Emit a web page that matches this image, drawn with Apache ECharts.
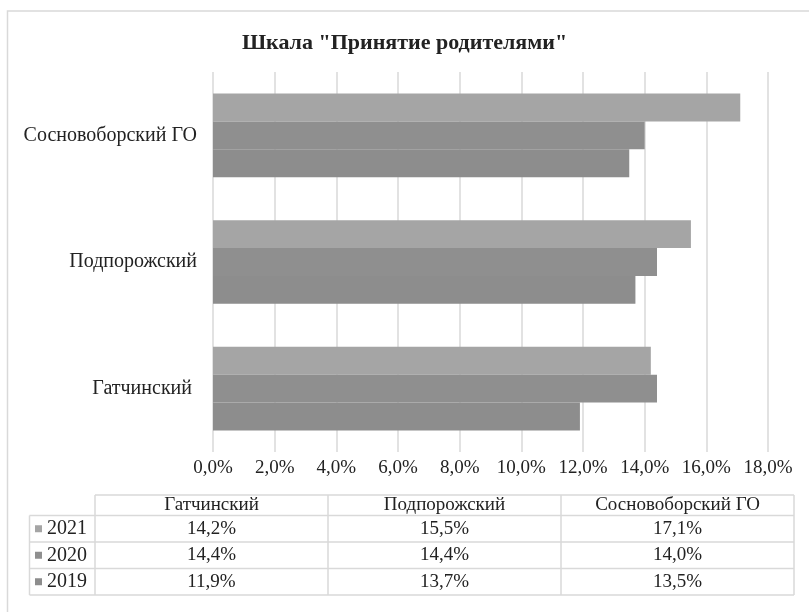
<!DOCTYPE html>
<html>
<head>
<meta charset="utf-8">
<style>
  html, body { margin: 0; padding: 0; background: #ffffff; }
  #chart { width: 809px; height: 612px; }
</style>
<script src="https://cdn.jsdelivr.net/npm/echarts@6/dist/echarts.min.js"></script>
</head>
<body>
<div id="chart"></div>
<script>
// Districts (bottom to top on the category axis)
const categories = ['Гатчинский ', 'Подпорожский', 'Сосновоборский ГО'];
// Share of respondents per year, in percent
const years = ['2021', '2020', '2019'];
const values2021 = [14.2, 15.5, 17.1];
const values2020 = [14.4, 14.4, 14.0];
const values2019 = [11.9, 13.7, 13.5];
const seriesValues = [values2021, values2020, values2019];
const seriesColors = ['#a5a5a5', '#8f8f8f', '#8d8d8d'];
const titleText = 'Шкала "Принятие родителями"';

const SERIF = '"Liberation Serif", "DejaVu Serif", serif';
const TEXT = '#222222';
const LINE = '#d9d9d9';

function pct(v) {
  return v.toFixed(1).replace('.', ',') + '%';
}

// Data table under the chart, built from the same arrays
const tableX = [29.5, 95, 328, 561, 794];
const tableY = [495, 515.5, 542, 568.5, 595];
const graphics = [];

// outer frame of the chart area
graphics.push({
  type: 'rect',
  shape: { x: 7.5, y: 11, width: 900, height: 700 },
  style: { fill: 'none', stroke: LINE, lineWidth: 1.5 },
  silent: true
});

function hline(x1, x2, y) {
  graphics.push({ type: 'line', shape: { x1: x1, y1: y, x2: x2, y2: y },
    style: { stroke: LINE, lineWidth: 1.5 }, silent: true });
}
function vline(x, y1, y2) {
  graphics.push({ type: 'line', shape: { x1: x, y1: y1, x2: x, y2: y2 },
    style: { stroke: LINE, lineWidth: 1.5 }, silent: true });
}

// horizontal rules
hline(tableX[1], tableX[4], tableY[0]);
for (let r = 1; r < tableY.length; r++) hline(tableX[0], tableX[4], tableY[r]);
// vertical rules
vline(tableX[0], tableY[1], tableY[4]);
for (let c = 1; c < tableX.length; c++) vline(tableX[c], tableY[0], tableY[4]);

// header row: district names
categories.forEach(function (name, i) {
  graphics.push({
    type: 'text',
    x: (tableX[i + 1] + tableX[i + 2]) / 2,
    y: (tableY[0] + tableY[1]) / 2,
    style: { text: name.trim(), font: '19px ' + SERIF, fill: TEXT,
      align: 'center', verticalAlign: 'middle' },
    silent: true
  });
});

// body rows: legend key, year and values
years.forEach(function (year, r) {
  const cy = (tableY[r + 1] + tableY[r + 2]) / 2;
  graphics.push({
    type: 'rect',
    shape: { x: 35, y: cy - 3.5, width: 7, height: 7 },
    style: { fill: seriesColors[r] },
    silent: true
  });
  graphics.push({
    type: 'text', x: 47, y: cy,
    style: { text: year, font: '20px ' + SERIF, fill: TEXT,
      align: 'left', verticalAlign: 'middle' },
    silent: true
  });
  seriesValues[r].forEach(function (v, i) {
    graphics.push({
      type: 'text',
      x: (tableX[i + 1] + tableX[i + 2]) / 2,
      y: cy,
      style: { text: pct(v), font: '19px ' + SERIF, fill: TEXT,
        align: 'center', verticalAlign: 'middle' },
      silent: true
    });
  });
});

const chart = echarts.init(document.getElementById('chart'), null, { renderer: 'canvas' });

chart.setOption({
  backgroundColor: '#ffffff',
  animation: false,
  title: {
    text: titleText,
    left: 'center',
    top: 27,
    textStyle: { fontFamily: SERIF, fontSize: 22, fontWeight: 'bold', color: TEXT }
  },
  grid: { left: 213, right: 41, top: 72, height: 380, containLabel: false },
  xAxis: {
    type: 'value',
    min: 0,
    max: 18,
    interval: 2,
    axisLine: { show: false },
    axisTick: { show: false },
    splitLine: { show: true, lineStyle: { color: LINE, width: 1.5 } },
    axisLabel: {
      formatter: function (v) { return pct(v); },
      fontFamily: SERIF, fontSize: 19, color: TEXT, margin: 7
    }
  },
  yAxis: {
    type: 'category',
    data: categories,
    axisLine: { show: false },
    axisTick: { show: false },
    splitLine: { show: false },
    axisLabel: { fontFamily: SERIF, fontSize: 20, color: TEXT, margin: 16 }
  },
  series: years.map(function (year, i) {
    return {
      name: year,
      type: 'bar',
      data: seriesValues[i],
      itemStyle: { color: seriesColors[i] },
      barGap: '0%',
      barCategoryGap: '34%'
    };
  }),
  graphic: graphics
});
</script>
</body>
</html>
